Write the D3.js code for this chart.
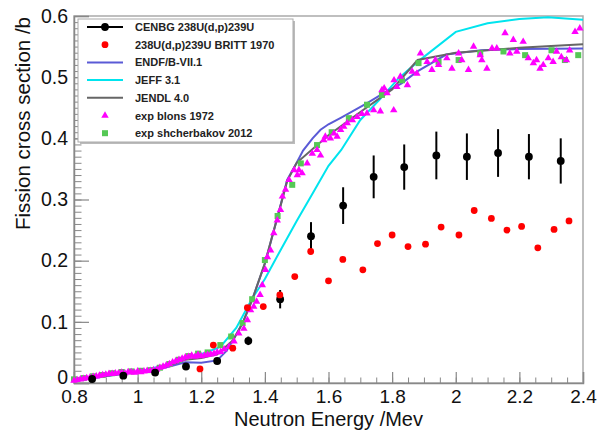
<!DOCTYPE html>
<html>
<head>
<meta charset="utf-8">
<script src="https://cdn.jsdelivr.net/npm/d3@7"></script>
<style>
  body { margin: 0; background: #fff; }
  svg { display: block; font-family: "Liberation Sans", Arial, sans-serif; }
</style>
</head>
<body>
<svg width="598" height="430"></svg>
<script>
// CENBG 238U(d,p)239U : [energy, sigma, error]
const cenbg = [
  [0.857, 0.0065, 0.002], [0.955, 0.012, 0.002], [1.055, 0.017, 0.003], [1.152, 0.027, 0.004],
  [1.25, 0.036, 0.005], [1.348, 0.069, 0.007], [1.448, 0.137, 0.015], [1.545, 0.24, 0.023],
  [1.646, 0.29, 0.03], [1.742, 0.337, 0.035], [1.838, 0.353, 0.037], [1.939, 0.372, 0.039],
  [2.035, 0.37, 0.038], [2.133, 0.376, 0.039], [2.23, 0.37, 0.037], [2.33, 0.363, 0.037]
];

// 238U(d,p)239U BRITT 1970
const britt = [
  [1.196, 0.023], [1.238, 0.062], [1.299, 0.057], [1.345, 0.123], [1.395, 0.125], [1.447, 0.144],
  [1.494, 0.174], [1.544, 0.215], [1.6, 0.167], [1.645, 0.202], [1.708, 0.185], [1.754, 0.228],
  [1.8, 0.242], [1.85, 0.223], [1.905, 0.227], [1.954, 0.255], [2.01, 0.242], [2.058, 0.282],
  [2.112, 0.269], [2.161, 0.25], [2.207, 0.256], [2.258, 0.221], [2.309, 0.251], [2.356, 0.265]
];

// evaluations
const endf = [
  [0.8, 0.004], [0.85, 0.007], [0.9, 0.011], [0.95, 0.015], [1.0, 0.018], [1.05, 0.021],
  [1.1, 0.027], [1.15, 0.034], [1.2, 0.033], [1.25, 0.037], [1.28, 0.053], [1.3, 0.07],
  [1.33, 0.098], [1.36, 0.136], [1.4, 0.195], [1.44, 0.272], [1.47, 0.332], [1.5, 0.36],
  [1.52, 0.38], [1.55, 0.4], [1.575, 0.414], [1.6, 0.423], [1.64, 0.434], [1.72, 0.457],
  [1.78, 0.476], [1.83, 0.49], [1.878, 0.509], [1.97, 0.537], [2.08, 0.544], [2.2, 0.546],
  [2.4, 0.547]
];
const jeff = [
  [0.8, 0.005], [0.9, 0.012], [1.0, 0.018], [1.1, 0.031], [1.15, 0.042], [1.2, 0.047],
  [1.26, 0.059], [1.31, 0.09], [1.36, 0.138], [1.4, 0.17], [1.45, 0.218], [1.5, 0.265],
  [1.55, 0.31], [1.6, 0.355], [1.64, 0.381], [1.7, 0.43], [1.76, 0.463], [1.82, 0.498],
  [1.88, 0.525], [2.0, 0.574], [2.1, 0.588], [2.2, 0.595], [2.29, 0.598], [2.4, 0.594]
];
const jendl = [
  [0.8, 0.005], [0.85, 0.008], [0.9, 0.012], [0.95, 0.015], [1.0, 0.018], [1.05, 0.021],
  [1.1, 0.029], [1.15, 0.038], [1.2, 0.041], [1.25, 0.047], [1.3, 0.07], [1.33, 0.098],
  [1.36, 0.136], [1.4, 0.196], [1.44, 0.272], [1.47, 0.33], [1.5, 0.36], [1.6, 0.405],
  [1.7, 0.443], [1.8, 0.48], [1.88, 0.528], [2.0, 0.54], [2.2, 0.548], [2.4, 0.554]
];

// exp blons 1972
const blons = [
  [0.8, 0.004], [0.81, 0.005], [0.82, 0.006], [0.83, 0.007], [0.84, 0.008], [0.85, 0.009],
  [0.86, 0.010], [0.87, 0.011], [0.88, 0.012], [0.89, 0.013], [0.9, 0.014], [0.91, 0.015],
  [0.92, 0.015], [0.93, 0.016], [0.94, 0.016], [0.95, 0.017], [0.96, 0.016], [0.97, 0.018],
  [0.98, 0.018], [0.99, 0.017], [1.0, 0.019], [1.01, 0.018], [1.02, 0.019], [1.03, 0.02],
  [1.04, 0.02], [1.05, 0.021], [1.06, 0.022], [1.07, 0.025], [1.08, 0.027], [1.09, 0.029],
  [1.1, 0.031], [1.11, 0.034], [1.12, 0.036], [1.13, 0.038], [1.14, 0.04], [1.15, 0.042],
  [1.16, 0.043], [1.17, 0.045], [1.18, 0.043], [1.19, 0.046], [1.2, 0.044], [1.21, 0.045],
  [1.22, 0.046], [1.23, 0.047], [1.24, 0.048], [1.25, 0.05], [1.261, 0.051], [1.272, 0.055],
  [1.287, 0.059], [1.303, 0.068], [1.318, 0.081], [1.334, 0.089], [1.345, 0.103], [1.355, 0.119],
  [1.365, 0.125], [1.374, 0.133], [1.385, 0.144], [1.392, 0.16], [1.402, 0.185], [1.408, 0.206],
  [1.418, 0.217], [1.428, 0.245], [1.439, 0.266], [1.449, 0.283], [1.455, 0.305], [1.465, 0.316],
  [1.476, 0.332], [1.492, 0.348], [1.502, 0.34], [1.507, 0.348], [1.517, 0.343], [1.533, 0.359],
  [1.549, 0.375], [1.564, 0.381], [1.575, 0.372], [1.585, 0.397], [1.59, 0.403], [1.606, 0.4],
  [1.617, 0.408], [1.627, 0.403], [1.638, 0.414], [1.648, 0.419], [1.659, 0.425], [1.675, 0.43],
  [1.69, 0.435], [1.705, 0.44], [1.721, 0.441], [1.742, 0.446], [1.763, 0.444], [1.768, 0.479],
  [1.775, 0.482], [1.784, 0.474], [1.805, 0.446], [1.806, 0.495], [1.815, 0.484], [1.826, 0.501],
  [1.848, 0.487], [1.863, 0.509], [1.878, 0.506], [1.889, 0.539], [1.91, 0.525], [1.925, 0.512],
  [1.936, 0.528], [1.946, 0.52], [1.972, 0.531], [1.988, 0.514], [2.009, 0.539], [2.019, 0.528],
  [2.04, 0.512], [2.056, 0.55], [2.077, 0.536], [2.082, 0.528], [2.098, 0.514], [2.114, 0.547],
  [2.129, 0.547], [2.155, 0.572], [2.17, 0.539], [2.181, 0.561], [2.192, 0.542], [2.212, 0.558],
  [2.228, 0.531], [2.244, 0.523], [2.254, 0.528], [2.265, 0.514], [2.275, 0.52], [2.291, 0.531],
  [2.306, 0.525], [2.317, 0.542], [2.332, 0.533], [2.348, 0.528], [2.358, 0.544], [2.375, 0.574],
  [2.39, 0.58]
];

// exp shcherbakov 2012
const shcherbakov = [
  [0.8, 0.006], [0.83, 0.008], [0.86, 0.011], [0.89, 0.013], [0.92, 0.016], [0.95, 0.018],
  [0.98, 0.019], [1.01, 0.02], [1.04, 0.021], [1.07, 0.025], [1.1, 0.031], [1.13, 0.038],
  [1.16, 0.044], [1.19, 0.048], [1.22, 0.05], [1.26, 0.062], [1.294, 0.076], [1.33, 0.098],
  [1.36, 0.137], [1.4, 0.201], [1.44, 0.273], [1.486, 0.324], [1.513, 0.359], [1.564, 0.389],
  [1.61, 0.41], [1.664, 0.433], [1.721, 0.455], [1.768, 0.471], [1.831, 0.495], [1.883, 0.523],
  [1.946, 0.525], [2.009, 0.528], [2.077, 0.539], [2.15, 0.542], [2.218, 0.536], [2.301, 0.544],
  [2.343, 0.528], [2.385, 0.536]
];

const xTicks = [0.8, 1, 1.2, 1.4, 1.6, 1.8, 2, 2.2, 2.4];
const yTicks = [0, 0.1, 0.2, 0.3, 0.4, 0.5, 0.6];

const legendItems = [
  { label: "CENBG 238U(d,p)239U", kind: "lp", color: "#000" },
  { label: "238U(d,p)239U BRITT 1970", kind: "circle", color: "#ff0000" },
  { label: "ENDF/B-VII.1", kind: "line", color: "#5a5ad6" },
  { label: "JEFF 3.1", kind: "line", color: "#00e4ee" },
  { label: "JENDL 4.0", kind: "line", color: "#666" },
  { label: "exp blons 1972", kind: "triangle", color: "#ff00ff" },
  { label: "exp shcherbakov 2012", kind: "square", color: "#55c855" }
];

const svg = d3.select("svg");

const x = d3.scaleLinear().domain([0.8, 2.4]).range([74, 583]);
const y = d3.scaleLinear().domain([0, 0.6]).range([383, 16]);

// frame
svg.append("rect")
  .attr("x", 74).attr("y", 16)
  .attr("width", 509).attr("height", 367)
  .attr("fill", "none")
  .attr("stroke", "#aaa")
  .attr("stroke-width", 1.5);

// minor ticks
svg.append("g")
  .attr("transform", "translate(0,383)")
  .call(d3.axisBottom(x).tickValues(d3.range(0.8, 2.4001, 0.05)).tickSize(-5.5).tickFormat(""))
  .call(g => g.select(".domain").remove())
  .selectAll("line").attr("stroke", "#888");

svg.append("g")
  .attr("transform", "translate(74,0)")
  .call(d3.axisLeft(y).tickValues(d3.range(0, 0.6001, 0.01)).tickSize(-7.5).tickFormat(""))
  .call(g => g.select(".domain").remove())
  .selectAll("line").attr("stroke", "#888");

// major ticks + labels
const xAxis = svg.append("g")
  .attr("transform", "translate(0,383)")
  .call(d3.axisBottom(x).tickValues(xTicks).tickSize(-11).tickPadding(7)
    .tickFormat(d => String(+d.toFixed(1))));
xAxis.select(".domain").attr("stroke", "#888").attr("stroke-width", 1.5);
xAxis.selectAll("line").attr("stroke", "#888").attr("stroke-width", 1.2);
xAxis.selectAll("text").attr("font-size", 19).attr("fill", "#111")
  .attr("font-family", "Liberation Sans, Arial, sans-serif");

const yAxis = svg.append("g")
  .attr("transform", "translate(74,0)")
  .call(d3.axisLeft(y).tickValues(yTicks).tickSize(-15).tickPadding(6)
    .tickFormat(d => d === 0 ? "0" : d.toFixed(1)));
yAxis.select(".domain").attr("stroke", "#888").attr("stroke-width", 1.5);
yAxis.selectAll("line").attr("stroke", "#888").attr("stroke-width", 1.2);
yAxis.selectAll("text").attr("font-size", 19.5).attr("fill", "#111")
  .attr("font-family", "Liberation Sans, Arial, sans-serif")
  .filter(d => d === 0).attr("y", -6);

// axis titles
svg.append("text")
  .attr("x", (74 + 583) / 2).attr("y", 425.5)
  .attr("text-anchor", "middle")
  .attr("font-size", 20).attr("fill", "#111")
  .text("Neutron Energy /Mev");

svg.append("text")
  .attr("transform", "translate(29.5,17) rotate(-90)")
  .attr("text-anchor", "end")
  .attr("font-size", 20.5).attr("fill", "#111")
  .text("Fission cross section /b");

// curves
const line = d3.line().x(d => x(d[0])).y(d => y(d[1]));
const plot = svg.append("g");

[[jeff, "#00e4ee"], [endf, "#5a5ad6"], [jendl, "#666"]].forEach(([data, color]) => {
  plot.append("path")
    .datum(data)
    .attr("d", line)
    .attr("fill", "none")
    .attr("stroke", color)
    .attr("stroke-width", 2);
});

// green squares
plot.append("g").selectAll("rect")
  .data(shcherbakov)
  .join("rect")
  .attr("x", d => x(d[0]) - 3)
  .attr("y", d => y(d[1]) - 3)
  .attr("width", 6).attr("height", 6)
  .attr("fill", "#55c855");

// magenta triangles
const tri = d3.symbol().type(d3.symbolTriangle).size(24);
plot.append("g").selectAll("path")
  .data(blons)
  .join("path")
  .attr("d", tri)
  .attr("transform", d => `translate(${x(d[0])},${y(d[1])})`)
  .attr("fill", "#ff00ff");

// CENBG error bars + points
const cg = plot.append("g");
cg.selectAll("line")
  .data(cenbg)
  .join("line")
  .attr("x1", d => x(d[0])).attr("x2", d => x(d[0]))
  .attr("y1", d => y(d[1] - d[2])).attr("y2", d => y(d[1] + d[2]))
  .attr("stroke", "#000").attr("stroke-width", 2);
cg.selectAll("circle")
  .data(cenbg)
  .join("circle")
  .attr("cx", d => x(d[0])).attr("cy", d => y(d[1]))
  .attr("r", 3.9).attr("fill", "#000");

// BRITT points
plot.append("g").selectAll("circle")
  .data(britt)
  .join("circle")
  .attr("cx", d => x(d[0])).attr("cy", d => y(d[1]))
  .attr("r", 3.4).attr("fill", "#ff0000");

// legend
const lg = svg.append("g");
lg.append("rect")
  .attr("x", 80).attr("y", 21).attr("width", 215).attr("height", 123)
  .attr("fill", "#bbb");
lg.append("rect")
  .attr("x", 78).attr("y", 19).attr("width", 215).attr("height", 123)
  .attr("fill", "#fff").attr("stroke", "#aaa").attr("stroke-width", 1);

const entry = lg.selectAll("g.entry")
  .data(legendItems)
  .join("g")
  .attr("class", "entry")
  .attr("transform", (d, i) => `translate(0,${27 + i * 17.7})`);

entry.filter(d => d.kind === "line" || d.kind === "lp")
  .append("line")
  .attr("x1", 87).attr("x2", 123).attr("y1", 0).attr("y2", 0)
  .attr("stroke", d => d.color).attr("stroke-width", 2);
entry.filter(d => d.kind === "lp" || d.kind === "circle")
  .append("circle")
  .attr("cx", 105).attr("cy", 0)
  .attr("r", d => d.kind === "lp" ? 3.9 : 3.4)
  .attr("fill", d => d.color);
entry.filter(d => d.kind === "triangle")
  .append("path")
  .attr("d", tri)
  .attr("transform", "translate(105,0)")
  .attr("fill", d => d.color);
entry.filter(d => d.kind === "square")
  .append("rect")
  .attr("x", 102).attr("y", -3).attr("width", 6).attr("height", 6)
  .attr("fill", d => d.color);

entry.append("text")
  .attr("x", 135).attr("y", 4)
  .attr("font-size", 11).attr("font-weight", "bold").attr("fill", "#222")
  .text(d => d.label);
</script>
</body>
</html>
